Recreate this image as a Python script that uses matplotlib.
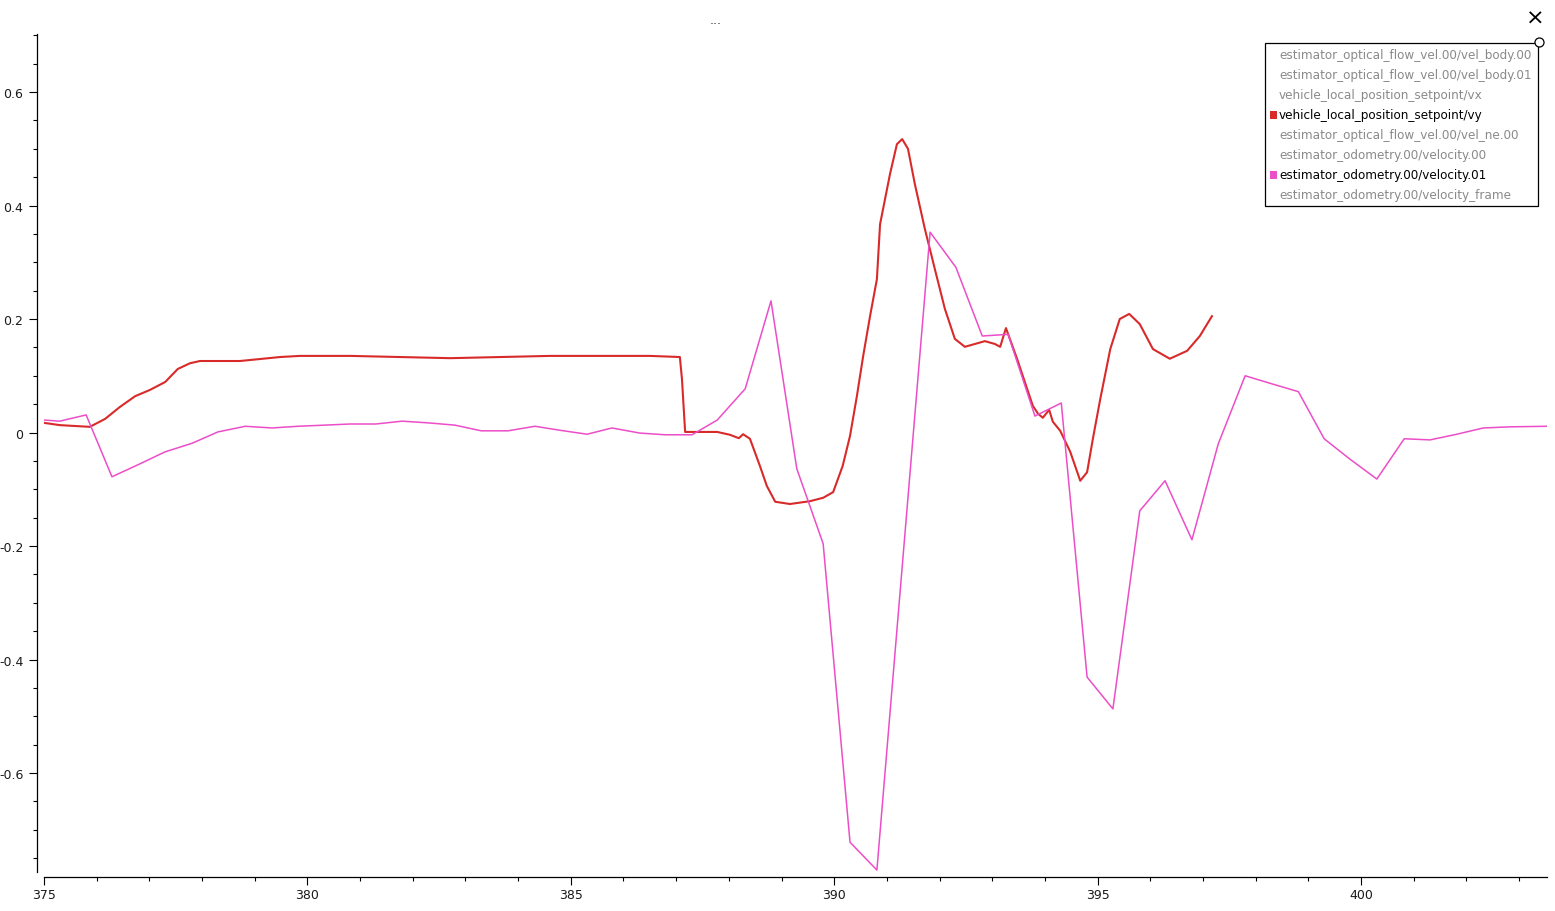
import matplotlib
matplotlib.use("Agg")
import matplotlib.pyplot as plt
from matplotlib.patches import Rectangle
from matplotlib.lines import Line2D
from matplotlib.ticker import FixedLocator, MultipleLocator, FixedFormatter

# ---------------- data ----------------
vy_t = [375.00, 375.30, 375.87, 376.16, 376.44, 376.73, 377.01, 377.30, 377.54, 377.77,
        377.96, 378.72, 379.48, 379.86, 380.81, 381.76, 382.71, 383.66, 384.61, 385.55,
        386.50, 387.07, 387.11, 387.17, 387.78, 388.02, 388.19, 388.27, 388.40, 388.59,
        388.72, 388.88, 389.16, 389.54, 389.79, 389.98, 390.16, 390.30, 390.43, 390.55,
        390.68, 390.81, 390.87, 391.06, 391.19, 391.29, 391.40, 391.53, 391.72, 391.91,
        392.10, 392.29, 392.48, 392.67, 392.86, 393.05, 393.15, 393.26, 393.47, 393.77,
        393.87, 393.96, 394.08, 394.15, 394.29, 394.48, 394.67, 394.80, 394.91, 395.05,
        395.24, 395.42, 395.60, 395.80, 396.05, 396.37, 396.70, 396.94, 397.17]
vy_v = [0.017, 0.013, 0.010, 0.024, 0.045, 0.064, 0.075, 0.089, 0.112, 0.122,
        0.126, 0.126, 0.133, 0.135, 0.135, 0.133, 0.131, 0.133, 0.135, 0.135,
        0.135, 0.133, 0.094, 0.001, 0.001, -0.004, -0.010, -0.003, -0.011, -0.059,
        -0.094, -0.122, -0.126, -0.121, -0.115, -0.105, -0.059, -0.006, 0.064, 0.135,
        0.205, 0.270, 0.367, 0.456, 0.508, 0.517, 0.500, 0.438, 0.359, 0.288,
        0.218, 0.165, 0.151, 0.156, 0.161, 0.156, 0.151, 0.184, 0.130, 0.047,
        0.033, 0.026, 0.040, 0.019, 0.003, -0.034, -0.085, -0.070, -0.011, 0.059,
        0.147, 0.200, 0.209, 0.191, 0.147, 0.130, 0.144, 0.170, 0.205]

odo_t = [375.00, 375.30, 375.80, 376.29, 376.78, 377.30, 377.81, 378.30, 378.82, 379.33,
         379.82, 380.33, 380.81, 381.30, 381.80, 382.29, 382.80, 383.30, 383.81, 384.32,
         384.79, 385.31, 385.78, 386.31, 386.79, 387.30, 387.78, 388.31, 388.80, 389.29,
         389.79, 390.30, 390.81, 391.82, 392.31, 392.81, 393.30, 393.81, 394.31, 394.80,
         395.29, 395.80, 396.28, 396.79, 397.29, 397.80, 398.30, 398.81, 399.30, 399.79,
         400.30, 400.82, 401.31, 401.82, 402.32, 402.83, 403.53]
odo_v = [0.022, 0.020, 0.031, -0.078, -0.057, -0.034, -0.019, 0.001, 0.011, 0.008,
         0.011, 0.013, 0.015, 0.015, 0.020, 0.017, 0.013, 0.003, 0.003, 0.011,
         0.004, -0.003, 0.008, -0.001, -0.004, -0.004, 0.022, 0.077, 0.232, -0.064,
         -0.196, -0.722, -0.771, 0.353, 0.291, 0.170, 0.173, 0.029, 0.052, -0.431,
         -0.487, -0.138, -0.085, -0.189, -0.020, 0.100, 0.086, 0.072, -0.011, -0.047,
         -0.082, -0.011, -0.013, -0.003, 0.008, 0.010, 0.011]

legend_labels = [
    "estimator_optical_flow_vel.00/vel_body.00",
    "estimator_optical_flow_vel.00/vel_body.01",
    "vehicle_local_position_setpoint/vx",
    "vehicle_local_position_setpoint/vy",
    "estimator_optical_flow_vel.00/vel_ne.00",
    "estimator_odometry.00/velocity.00",
    "estimator_odometry.00/velocity.01",
    "estimator_odometry.00/velocity_frame",
]
legend_visible = [False, False, False, True, False, False, True, False]

x_major = [375, 380, 385, 390, 395, 400]
x_labels = ["375", "380", "385", "390", "395", "400"]
y_major = [-0.6, -0.4, -0.2, 0.0, 0.2, 0.4, 0.6]
y_labels = ["-0.6", "-0.4", "-0.2", "0", "0.2", "0.4", "0.6"]

RED = "#d92a2a"
PINK = "#ec4ec8"
colors = {3: RED, 6: PINK}

# ---------------- figure ----------------
W, H = 1555, 912
fig = plt.figure(figsize=(W / 100, H / 100), dpi=100)
fig.patch.set_facecolor("white")

def fx(px):
    return px / W

def fy(py):
    return 1 - py / H

ax = fig.add_axes([fx(44), fy(873), (1547 - 44) / W, (873 - 35) / H])
ax.plot(vy_t, vy_v, color=RED, lw=1.5, zorder=3)
ax.plot(odo_t, odo_v, color=PINK, lw=1.1, zorder=4)

ax.set_xlim(375.0, 403.53)
ax.set_ylim(-0.7744, 0.7022)

for s in ("top", "right"):
    ax.spines[s].set_visible(False)
ax.spines["left"].set_position(("outward", 5.0))
ax.spines["bottom"].set_position(("outward", 3.6))
for s in ("left", "bottom"):
    ax.spines[s].set_linewidth(0.9)
    ax.spines[s].set_color("black")

ax.xaxis.set_major_locator(FixedLocator(x_major))
ax.xaxis.set_major_formatter(FixedFormatter(x_labels))
ax.xaxis.set_minor_locator(MultipleLocator(1))
ax.yaxis.set_major_locator(FixedLocator(y_major))
ax.yaxis.set_major_formatter(FixedFormatter(y_labels))
ax.yaxis.set_minor_locator(MultipleLocator(0.05))

ax.tick_params(which="major", direction="out", length=5.8, width=0.8,
               labelsize=9, labelcolor="#1a1a1a", color="black")
ax.tick_params(which="minor", direction="out", length=3.0, width=0.8, color="black")
ax.tick_params(axis="x", which="major", pad=2)
ax.tick_params(axis="y", which="major", pad=4)

# title and close glyph
fig.text(fx(716), fy(20), "...", ha="center", va="center", fontsize=9, color="#333333")
fig.text(fx(1535), fy(19), "\u00d7", ha="center", va="center", fontsize=16, color="black")

# legend box (manual)
lx0, ly0, lx1, ly1 = 1265, 44, 1538, 207
fig.add_artist(Rectangle((fx(lx0), fy(ly1)), (lx1 - lx0) / W, (ly1 - ly0) / H,
                         transform=fig.transFigure, facecolor="white",
                         edgecolor="black", lw=0.9, zorder=10))
for i, (lab, vis) in enumerate(zip(legend_labels, legend_visible)):
    yc = 56 + 20 * i
    if vis:
        fig.add_artist(Rectangle((fx(1270), fy(yc + 4)), 7 / W, 8 / H,
                                 transform=fig.transFigure, facecolor=colors[i],
                                 edgecolor="none", zorder=11))
    fig.text(fx(1279), fy(yc), lab, ha="left", va="center", fontsize=8.65,
             color="black" if vis else "#8a8a8a", zorder=11)

fig.add_artist(Line2D([fx(1539)], [fy(43)], marker="o", markersize=6.5,
                      markerfacecolor="white", markeredgecolor="black",
                      markeredgewidth=0.9, transform=fig.transFigure, zorder=12))

fig.savefig("out.png", dpi=100, facecolor="white")
